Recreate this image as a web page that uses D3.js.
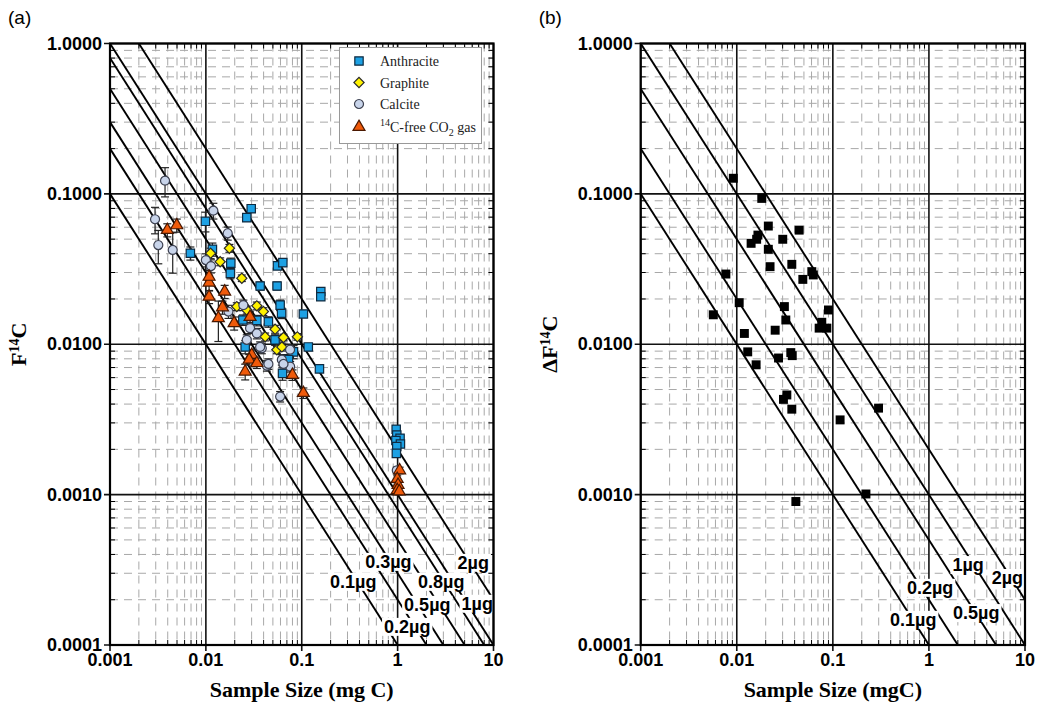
<!DOCTYPE html>
<html><head><meta charset="utf-8">
<script src="https://cdn.jsdelivr.net/npm/d3@7"></script>
<style>body{margin:0;background:#fff}</style>
</head><body>
<svg id="c" width="1041" height="706"></svg>
<script>
// ---------- data ----------
const xTickValues = [0.001, 0.01, 0.1, 1, 10];
const xTickLabels = ["0.001", "0.01", "0.1", "1", "10"];
const yTickValues = [1, 0.1, 0.01, 0.001, 0.0001];
const yTickLabels = ["1.0000", "0.1000", "0.0100", "0.0010", "0.0001"];

const blanksA = [0.1, 0.2, 0.3, 0.5, 0.8, 1, 2];   // µg blank lines (a)
const blanksB = [0.1, 0.2, 0.5, 1, 2];             // µg blank lines (b)
// [text, x (mg C), y] positions of the line labels
const lineLabelsA = [["0.3µg",0.80,0.000357],["2µg",6.15,0.000352],["0.1µg",0.344,0.000263],
  ["0.8µg",2.85,0.000263],["0.5µg",2.04,0.000185],["1µg",6.78,0.000188],["0.2µg",1.26,0.000132]];
const lineLabelsB = [["1µg",2.56,0.00034],["2µg",6.55,0.000279],["0.2µg",1.03,0.00024],
  ["0.5µg",3.11,0.000163],["0.1µg",0.686,0.000147]];

// [sample size mg C, F14C, relative error]
const anthracite = [
  [0.00989,0.0657,0.15],[0.0267,0.0695,0.05],[0.0297,0.0797,0.05],[0.00689,0.0403,0.1],
  [0.0117,0.0428,0.1],[0.0182,0.0346,0.08],[0.0180,0.0296,0.08],[0.0368,0.0244,0.06],
  [0.0558,0.0332,0.05],[0.0635,0.0349,0.05],[0.0553,0.0244,0.06],[0.158,0.0224,0.04],
  [0.158,0.0207,0.04],[0.104,0.0159,0.05],[0.117,0.0096,0.05],[0.153,0.00686,0.05],
  [0.0616,0.0161,0.08],[0.0595,0.0182,0.08],[0.0449,0.0141,0.08],[0.0527,0.0107,0.08],
  [0.0257,0.0096,0.1],[0.063,0.0064,0.1],[0.082,0.0089,0.1],[0.034,0.0144,0.08],
  [0.0243,0.0145,0.08],[0.0727,0.0079,0.08],
  [0.966,0.00272,0.04],[0.98,0.00249,0.04],[1.06,0.00237,0.04],[0.96,0.00229,0.04],
  [1.07,0.00217,0.04],[0.98,0.00209,0.04],[0.97,0.00188,0.04]
];
const graphite = [
  [0.0176,0.0435,0.06],[0.0112,0.0403,0.08],[0.0141,0.0354,0.06],[0.0237,0.0275,0.05],
  [0.021,0.0178,0.06],[0.034,0.0180,0.06],[0.0398,0.0165,0.06],[0.0527,0.0126,0.06],
  [0.0415,0.0112,0.06],[0.0645,0.0111,0.05],[0.090,0.0112,0.05],[0.055,0.0092,0.06],
  [0.062,0.0096,0.06],[0.0267,0.0169,0.06]
];
const calcite = [
  [0.00375,0.1224,0.22],[0.00295,0.0678,0.2],[0.00319,0.0457,0.25],[0.00451,0.0424,0.3],
  [0.01197,0.0773,0.12],[0.0169,0.0547,0.1],[0.0100,0.0363,0.1],[0.0113,0.0331,0.1],
  [0.0172,0.0165,0.1],[0.0246,0.0182,0.08],[0.0289,0.0128,0.08],[0.034,0.0118,0.08],
  [0.0267,0.0107,0.08],[0.0383,0.0094,0.08],[0.062,0.0079,0.08],[0.0433,0.0072,0.08],
  [0.0757,0.0071,0.08],[0.0595,0.00449,0.08],[0.0368,0.0096,0.08],[0.0645,0.0074,0.08],
  [0.0449,0.0074,0.08],[0.0755,0.0092,0.08],[0.98,0.00145,0.05]
];
const co2gas = [
  [0.00396,0.0575,0.1],[0.00497,0.0618,0.1],[0.0108,0.0257,0.12],[0.0108,0.0281,0.1],
  [0.0157,0.0224,0.1],[0.0108,0.0207,0.1],[0.0149,0.0176,0.1],[0.0135,0.0149,0.3],
  [0.0197,0.0138,0.1],[0.0289,0.0152,0.08],[0.0301,0.0085,0.08],[0.0283,0.0079,0.08],
  [0.034,0.0075,0.08],[0.0257,0.00658,0.12],[0.080,0.00625,0.08],[0.104,0.00474,0.08],
  [1.05,0.00145,0.05],[0.99,0.00127,0.05],[1.01,0.00116,0.05],[0.99,0.00107,0.05],[1.04,0.00105,0.05]
];
// panel (b): [sample size mgC, ΔF14C]
const deltaF = [
  [0.0092,0.127],[0.0182,0.0933],[0.0213,0.0611],[0.0446,0.0574],[0.0166,0.0532],[0.0161,0.0499],
  [0.0141,0.0469],[0.0301,0.0499],[0.0213,0.0428],[0.0222,0.0328],[0.0374,0.0340],[0.0604,0.0304],
  [0.0626,0.0289],[0.0487,0.0270],[0.0077,0.0293],[0.0106,0.0189],[0.0057,0.0157],[0.0313,0.0178],
  [0.090,0.0169],[0.0324,0.0145],[0.0767,0.0140],[0.0720,0.0128],[0.0866,0.0128],[0.0251,0.0124],
  [0.0120,0.0118],[0.0130,0.0089],[0.0272,0.0081],[0.0365,0.0088],[0.0378,0.0084],[0.0159,0.0073],
  [0.0332,0.0046],[0.0306,0.0043],[0.0374,0.0037],[0.119,0.00314],[0.299,0.00376],[0.221,0.00101],
  [0.0412,0.0009]
];
const seriesNames = ["Anthracite", "Graphite", "Calcite", "CO2"];

// ---------- drawing ----------
const svg = d3.select("#c");
const SANS = "'Liberation Sans', Arial, sans-serif";
const SERIF = "'Liberation Serif', 'Times New Roman', serif";

function panel(cfg) {
  const x = d3.scaleLog().domain([0.001, 10]).range([cfg.left, cfg.right]);
  const y = d3.scaleLog().domain([0.0001, 1]).range([cfg.bottom, cfg.top]);
  const g = svg.append("g");
  const clipId = "clip" + cfg.id;
  svg.append("clipPath").attr("id", clipId).append("rect")
    .attr("x", cfg.left).attr("y", cfg.top)
    .attr("width", cfg.right - cfg.left).attr("height", cfg.bottom - cfg.top);

  const minorX = [], minorY = [];
  for (let d = -3; d <= 0; d++) for (let k = 2; k <= 9; k++) minorX.push(k * Math.pow(10, d));
  for (let d = -4; d <= -1; d++) for (let k = 2; k <= 9; k++) minorY.push(k * Math.pow(10, d));

  const grid = g.append("g");
  grid.selectAll(".mx").data(minorX).join("line")
    .attr("x1", d => x(d)).attr("x2", d => x(d)).attr("y1", cfg.top).attr("y2", cfg.bottom)
    .attr("stroke", "#a8a8a8").attr("stroke-width", 1).attr("stroke-dasharray", "8,6");
  grid.selectAll(".my").data(minorY).join("line")
    .attr("y1", d => y(d)).attr("y2", d => y(d)).attr("x1", cfg.left).attr("x2", cfg.right)
    .attr("stroke", "#a8a8a8").attr("stroke-width", 1).attr("stroke-dasharray", "8,6");
  // minor ticks on frame
  const tk = 5;
  minorX.forEach(v => {
    grid.append("line").attr("x1", x(v)).attr("x2", x(v)).attr("y1", cfg.bottom).attr("y2", cfg.bottom - tk).attr("stroke", "#000");
    grid.append("line").attr("x1", x(v)).attr("x2", x(v)).attr("y1", cfg.top).attr("y2", cfg.top + tk).attr("stroke", "#000");
  });
  minorY.forEach(v => {
    grid.append("line").attr("y1", y(v)).attr("y2", y(v)).attr("x1", cfg.left).attr("x2", cfg.left + tk).attr("stroke", "#000");
    grid.append("line").attr("y1", y(v)).attr("y2", y(v)).attr("x1", cfg.right).attr("x2", cfg.right - tk).attr("stroke", "#000");
  });
  // major grid
  grid.selectAll(".Mx").data(xTickValues).join("line")
    .attr("x1", d => x(d)).attr("x2", d => x(d)).attr("y1", cfg.top).attr("y2", cfg.bottom + 6)
    .attr("stroke", "#111").attr("stroke-width", 1.6);
  grid.selectAll(".My").data(yTickValues).join("line")
    .attr("y1", d => y(d)).attr("y2", d => y(d)).attr("x1", cfg.left - 6).attr("x2", cfg.right)
    .attr("stroke", "#111").attr("stroke-width", 1.6);

  // blank lines
  const lineGen = d3.line().x(d => x(d[0])).y(d => y(d[1]));
  const lg = g.append("g").attr("clip-path", `url(#${clipId})`);
  cfg.blanks.forEach(b => {
    lg.append("path")
      .attr("d", lineGen([[1e-4, b / (1000 * 1e-4)], [100, b / (1000 * 100)]]))
      .attr("stroke", "#000").attr("stroke-width", 1.9).attr("fill", "none");
  });
  // line labels
  cfg.labels.forEach(l => {
    const t = lg.append("text").attr("x", x(l[1])).attr("y", y(l[2]))
      .attr("text-anchor", "middle").attr("dominant-baseline", "central")
      .attr("font-family", SANS).attr("font-weight", "bold").attr("font-size", 18).text(l[0]);
    const bb = t.node().getBBox();
    lg.insert("rect", () => t.node()).attr("x", bb.x - 2).attr("y", bb.y + 1)
      .attr("width", bb.width + 4).attr("height", bb.height - 2).attr("fill", "#fff");
  });

  // data
  cfg.draw(g, x, y);

  // frame
  g.append("rect").attr("x", cfg.left).attr("y", cfg.top)
    .attr("width", cfg.right - cfg.left).attr("height", cfg.bottom - cfg.top)
    .attr("fill", "none").attr("stroke", "#000").attr("stroke-width", 2.2);

  // tick labels
  g.selectAll(".xl").data(xTickValues).join("text")
    .attr("x", d => x(d)).attr("y", cfg.bottom + 21).attr("text-anchor", "middle")
    .attr("font-family", SANS).attr("font-weight", "bold").attr("font-size", 18)
    .text((d, i) => xTickLabels[i]);
  g.selectAll(".yl").data(yTickValues).join("text")
    .attr("x", cfg.left - 8).attr("y", d => y(d)).attr("text-anchor", "end")
    .attr("dominant-baseline", "central")
    .attr("font-family", SANS).attr("font-weight", "bold").attr("font-size", 18)
    .text((d, i) => yTickLabels[i]);

  // axis titles
  g.append("text").attr("x", (cfg.left + cfg.right) / 2).attr("y", 697)
    .attr("text-anchor", "middle").attr("font-family", SERIF).attr("font-weight", "bold")
    .attr("font-size", 22).text(cfg.xTitle);
  const yt = g.append("text")
    .attr("transform", `translate(${cfg.left - 84},${(cfg.top + cfg.bottom) / 2}) rotate(-90)`)
    .attr("text-anchor", "middle").attr("font-family", SERIF).attr("font-weight", "bold")
    .attr("font-size", 22);
  yt.append("tspan").text(cfg.yPrefix + "F");
  yt.append("tspan").attr("baseline-shift", "super").attr("font-size", 14).text("14");
  yt.append("tspan").text("C");

  g.append("text").attr("x", cfg.left - 102).attr("y", 24)
    .attr("font-family", SANS).attr("font-size", 19).text(cfg.tag);
}

const styles = {
  Anthracite: { type: d3.symbolSquare, size: 70, rot: 0, fill: "#1da1e4", stroke: "#0f2a40" },
  Graphite: { type: d3.symbolSquare, size: 52, rot: 45, fill: "#fff200", stroke: "#2a2a2a" },
  Calcite: { type: d3.symbolCircle, size: 64, rot: 0, fill: "#c8d4ea", stroke: "#3c4050" },
  CO2: { type: d3.symbolTriangle, size: 62, rot: 0, fill: "#f05a0a", stroke: "#4a1800" }
};
const seriesData = [anthracite, graphite, calcite, co2gas];

panel({
  id: "a", left: 110, right: 493.5, top: 43.5, bottom: 645,
  blanks: blanksA, labels: lineLabelsA, xTitle: "Sample Size (mg C)", yPrefix: "", tag: "(a)",
  draw: (g, x, y) => {
    const eg = g.append("g");
    seriesData.forEach(data => {
      data.forEach(d => {
        const y1 = y(d[1] * (1 + d[2])), y2 = y(d[1] * (1 - d[2])), xx = x(d[0]);
        eg.append("line").attr("x1", xx).attr("x2", xx).attr("y1", y1).attr("y2", y2).attr("stroke", "#222").attr("stroke-width", 1.2);
        eg.append("line").attr("x1", xx - 4).attr("x2", xx + 4).attr("y1", y1).attr("y2", y1).attr("stroke", "#222").attr("stroke-width", 1.2);
        eg.append("line").attr("x1", xx - 4).attr("x2", xx + 4).attr("y1", y2).attr("y2", y2).attr("stroke", "#222").attr("stroke-width", 1.2);
      });
    });
    seriesData.forEach((data, i) => {
      const s = styles[seriesNames[i]];
      g.append("g").selectAll("path").data(data).join("path")
        .attr("transform", d => `translate(${x(d[0])},${y(d[1])}) rotate(${s.rot})`)
        .attr("d", d3.symbol().type(s.type).size(s.size))
        .attr("fill", s.fill).attr("stroke", s.stroke).attr("stroke-width", 1.2);
    });
    // legend
    const lg = g.append("g");
    lg.append("rect").attr("x", 339.5).attr("y", 47.5).attr("width", 142).attr("height", 96)
      .attr("fill", "#fff").attr("stroke", "#999").attr("stroke-width", 1);
    seriesNames.forEach((n, i) => {
      const s = styles[n];
      const cy = [61, 82.5, 104, 127][i];
      lg.append("path").attr("transform", `translate(359,${cy}) rotate(${s.rot})`)
        .attr("d", d3.symbol().type(s.type).size(s.size))
        .attr("fill", s.fill).attr("stroke", s.stroke).attr("stroke-width", 1.2);
      const t = lg.append("text").attr("x", 380).attr("y", cy + 5)
        .attr("font-family", SERIF).attr("font-size", 14).attr("fill", "#222");
      if (n === "CO2") {
        t.append("tspan").attr("font-size", 10).attr("dy", -6).text("14");
        t.append("tspan").attr("dy", 6).text("C-free CO");
        t.append("tspan").attr("font-size", 10).attr("dy", 4).text("2");
        t.append("tspan").attr("dy", -4).text(" gas");
      } else t.text(n);
    });
  }
});

panel({
  id: "b", left: 640.7, right: 1025, top: 43.5, bottom: 645,
  blanks: blanksB, labels: lineLabelsB, xTitle: "Sample Size (mgC)", yPrefix: "Δ", tag: "(b)",
  draw: (g, x, y) => {
    g.append("g").selectAll("path").data(deltaF).join("path")
      .attr("transform", d => `translate(${x(d[0])},${y(d[1])})`)
      .attr("d", d3.symbol().type(d3.symbolSquare).size(80))
      .attr("fill", "#000");
  }
});
</script>
</body></html>
